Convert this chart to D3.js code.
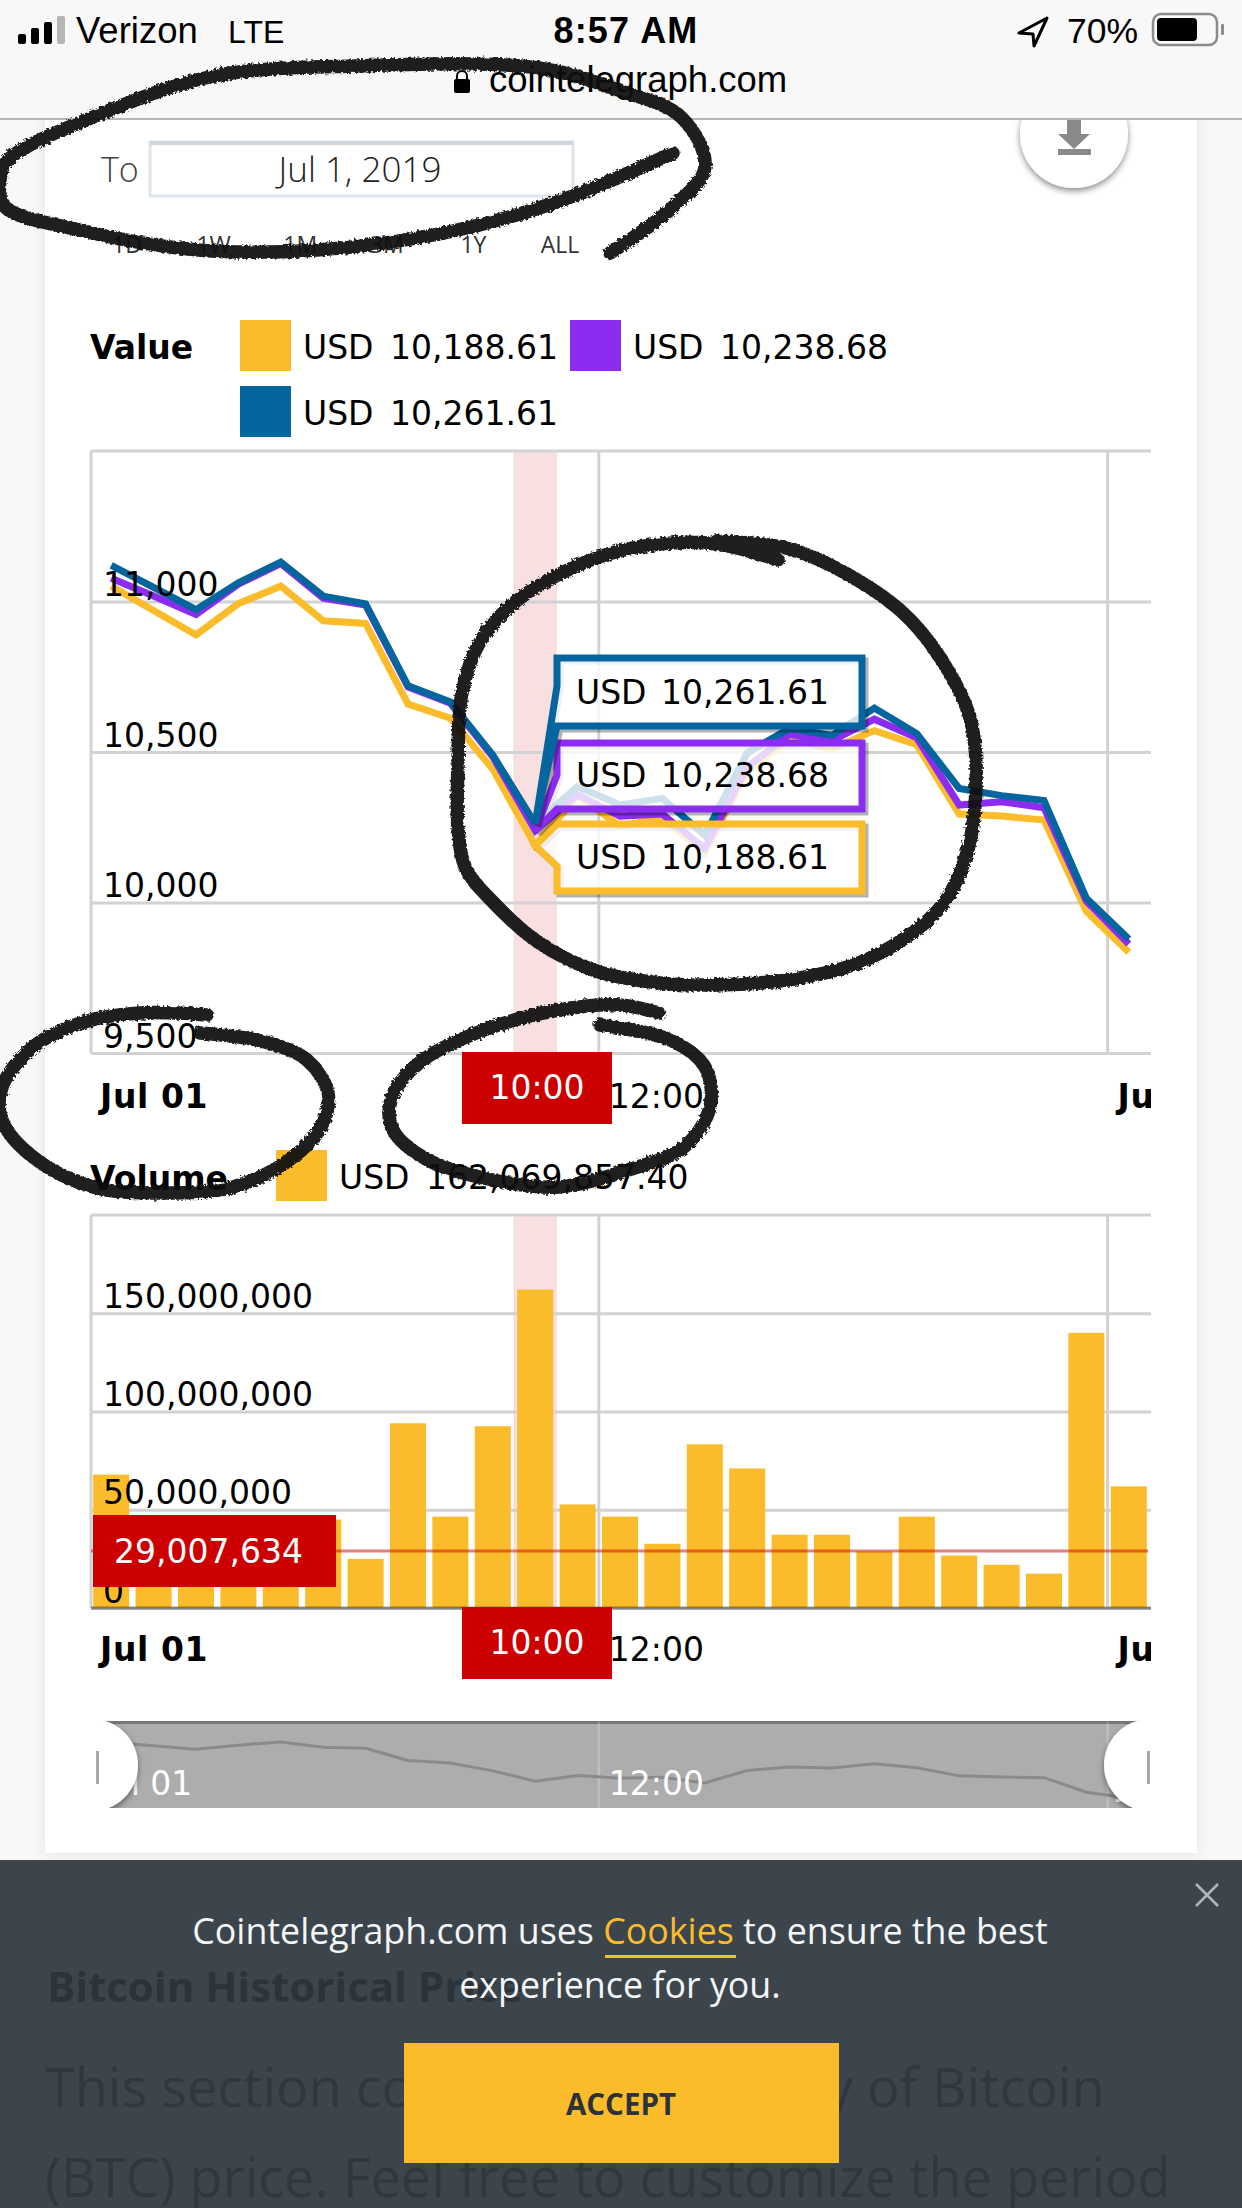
<!DOCTYPE html>
<html>
<head>
<meta charset="utf-8">
<title>Bitcoin price and volume</title>
<script src="https://cdn.jsdelivr.net/npm/d3@7/dist/d3.min.js"></script>
<style>
  html, body { margin: 0; padding: 0; background: #f8f8f8; }
  svg { display: block; }
  .chartText { font-family: "DejaVu Sans", sans-serif; font-size: 33px; fill: #000; }
  .pageText { font-family: "Open Sans", sans-serif; }
  .uiText { font-family: "Liberation Sans", sans-serif; fill: #000; }
</style>
</head>
<body>
<svg id="page" width="1242" height="2208" viewBox="0 0 1242 2208"></svg>
<script>
// Hourly samples for 1 July 2019
const hours = d3.range(25);
const highValues = [11120, 11047, 10973, 11062, 11131, 11018, 10992, 10720, 10666, 10490, 10261.61, 10385, 10324, 10346, 10223, 10497, 10578, 10555, 10646, 10561, 10379, 10355, 10339, 10014, 9879];
const midValues = [11077, 11018, 10957, 11058, 11126, 11011, 10988, 10716, 10662, 10484, 10238.68, 10358, 10287, 10294, 10179, 10450, 10558, 10538, 10609, 10547, 10324, 10335, 10315, 10004, 9862];
const lowValues = [11051, 10970, 10889, 10993, 11051, 10936, 10927, 10659, 10612, 10443, 10188.61, 10355, 10254, 10281, 10166, 10436, 10544, 10511, 10571, 10524, 10294, 10287, 10274, 9970, 9835];
const volumes = [67900000, 30000000, 25000000, 22000000, 28000000, 45000000, 25000000, 94000000, 46500000, 92500000, 162069857.40, 52700000, 46500000, 32700000, 83300000, 71000000, 37300000, 37300000, 28800000, 46500000, 26700000, 22000000, 17500000, 140000000, 61900000];
const priceTicks = [9500, 10000, 10500, 11000];
const volumeTicks = [0, 50000000, 100000000, 150000000];
const timeTickHours = [0, 12, 24];
const timeTickLabels = ["Jul 01", "12:00", "Jul 02"];
const rangeButtons = ["1D", "1W", "1M", "3M", "1Y", "ALL"];
const hoveredHour = 10;
const hoveredHourLabel = "10:00";
const hoveredVolumeLevel = 29007634;

const YELLOW = "#fbbc2b", PURPLE = "#8b2cf0", BLUE = "#05659f", RED = "#cc0000", GRID = "#d2d2d2";
const seriesList = [
  { values: lowValues, color: YELLOW },
  { values: midValues, color: PURPLE },
  { values: highValues, color: BLUE }
];

const svg = d3.select("#page");
const defs = svg.append("defs");

// Rough edge for the hand-drawn marker strokes
const rough = defs.append("filter").attr("id", "rough").attr("x", "-10%").attr("y", "-10%").attr("width", "120%").attr("height", "120%");
rough.append("feTurbulence").attr("type", "fractalNoise").attr("baseFrequency", 0.35).attr("numOctaves", 2).attr("seed", 4).attr("result", "n");
rough.append("feDisplacementMap").attr("in", "SourceGraphic").attr("in2", "n").attr("scale", 5);

const softShadow = defs.append("filter").attr("id", "softShadow").attr("x", "-30%").attr("y", "-30%").attr("width", "160%").attr("height", "160%");
softShadow.append("feDropShadow").attr("dx", 0).attr("dy", 3).attr("stdDeviation", 3).attr("flood-color", "#000").attr("flood-opacity", 0.45);

const cardShadow = defs.append("filter").attr("id", "cardShadow").attr("x", "-5%").attr("y", "-5%").attr("width", "110%").attr("height", "110%");
cardShadow.append("feDropShadow").attr("dx", 0).attr("dy", 2).attr("stdDeviation", 7).attr("flood-color", "#000").attr("flood-opacity", 0.08);

const plotLeft = 91, plotRight = 1151;
defs.append("clipPath").attr("id", "plotClip").append("rect").attr("x", plotLeft - 3).attr("y", 0).attr("width", plotRight - plotLeft + 3).attr("height", 2208);

// Page card
svg.append("rect").attr("x", 45).attr("y", 0).attr("width", 1152).attr("height", 1853).attr("fill", "#fff").attr("filter", "url(#cardShadow)");

// Date field and range selector
svg.append("text").attr("class", "pageText").attr("x", 101).attr("y", 182).attr("font-size", 34).attr("font-weight", 300).attr("fill", "#444").text("To");
svg.append("rect").attr("x", 150).attr("y", 142).attr("width", 423).attr("height", 54).attr("fill", "#fff").attr("stroke", "#dfe5ea").attr("stroke-width", 3);
svg.append("rect").attr("x", 150).attr("y", 141).attr("width", 423).attr("height", 4).attr("fill", "#cfd6de");
svg.append("text").attr("class", "pageText").attr("x", 360).attr("y", 182).attr("text-anchor", "middle").attr("font-size", 35).attr("font-weight", 300).attr("fill", "#1e1e1e").text("Jul 1, 2019");

const rangeScale = d3.scalePoint().domain(rangeButtons).range([127, 560]);
svg.selectAll("text.range").data(rangeButtons).join("text")
  .attr("class", "range pageText")
  .attr("x", d => rangeScale(d)).attr("y", 253).attr("text-anchor", "middle")
  .attr("font-size", 23).attr("font-weight", 400).attr("fill", "#333").text(d => d);

// Export button, tucked under the browser bar
svg.append("circle").attr("cx", 1074).attr("cy", 134).attr("r", 54).attr("fill", "#fff").attr("filter", "url(#softShadow)");
svg.append("path").attr("d", "M1067 118h14v16h9l-16 15-16-15h9z").attr("fill", "#8a8a8a");
svg.append("rect").attr("x", 1058).attr("y", 149).attr("width", 33).attr("height", 6).attr("fill", "#8a8a8a");

// Value legend
function legendEntry(x, y, color, label) {
  svg.append("rect").attr("x", x).attr("y", y).attr("width", 51).attr("height", 51).attr("fill", color);
  svg.append("text").attr("class", "chartText").attr("x", x + 63).attr("y", y + 39).attr("word-spacing", 6).text(label);
}
const usd = v => "USD " + d3.format(",.2f")(v);
svg.append("text").attr("class", "chartText").attr("x", 90).attr("y", 359).attr("font-weight", 700).text("Value");
legendEntry(240, 320, YELLOW, usd(lowValues[hoveredHour]));
legendEntry(570, 320, PURPLE, usd(midValues[hoveredHour]));
legendEntry(240, 386, BLUE, usd(highValues[hoveredHour]));

// Shared horizontal scale: one band per hour
const x = d3.scaleBand().domain(hours).range([90, 1150]).paddingInner(0.15).paddingOuter(0.075);
const bandStart = h => x(h) - x.step() * x.paddingOuter();
const bandCentre = h => x(h) + x.bandwidth() / 2;

function drawFrame(top, bottom, yScale, ticks, tickFmt) {
  const g = svg.append("g").attr("clip-path", "url(#plotClip)");
  // vertical time grid
  g.selectAll("line.t").data(timeTickHours.slice(1)).join("line")
    .attr("x1", bandStart).attr("x2", bandStart).attr("y1", top).attr("y2", bottom)
    .attr("stroke", GRID).attr("stroke-width", 3);
  // highlighted hour column
  g.append("rect").attr("x", bandStart(hoveredHour)).attr("width", x.step()).attr("y", top).attr("height", bottom - top)
    .attr("fill", RED).attr("fill-opacity", 0.12).attr("stroke", RED).attr("stroke-opacity", 0.08);
  // top and left frame
  g.append("line").attr("x1", plotLeft).attr("x2", plotRight).attr("y1", top).attr("y2", top).attr("stroke", GRID).attr("stroke-width", 3);
  g.append("line").attr("x1", plotLeft).attr("x2", plotLeft).attr("y1", top).attr("y2", bottom).attr("stroke", GRID).attr("stroke-width", 3);
  // horizontal grid via the axis generator
  const axis = d3.axisLeft(yScale).tickValues(ticks).tickSize(-(plotRight - plotLeft)).tickFormat(tickFmt);
  const ag = g.append("g").attr("transform", `translate(${plotLeft},0)`).call(axis);
  ag.select(".domain").remove();
  ag.selectAll(".tick line").attr("stroke", GRID).attr("stroke-width", 3);
  ag.selectAll(".tick text").remove();
  return ag;
}
function drawTickLabels(yScale, ticks, tickFmt) {
  // labels sit inside the plot just above their grid line, on top of the marks
  svg.append("g").selectAll("text").data(ticks).join("text")
    .attr("class", "chartText")
    .attr("x", plotLeft + 12)
    .attr("y", d => yScale(d) - 5.5)
    .text(tickFmt);
}
function drawTimeAxis(baseline, fillStyle, boldDates) {
  const g = svg.append("g").attr("clip-path", "url(#plotClip)");
  g.selectAll("text").data(timeTickHours).join("text")
    .attr("class", "chartText")
    .attr("x", d => bandStart(d) + 10)
    .attr("y", baseline)
    .attr("font-weight", d => (boldDates && d !== 12) ? 700 : 400)
    .attr("letter-spacing", d => (boldDates && d !== 12) ? 0.6 : 0)
    .style("fill", fillStyle)
    .text((d, i) => timeTickLabels[i]);
}
function drawHoverTime(top) {
  const g = svg.append("g");
  g.append("rect").attr("x", 462).attr("y", top).attr("width", 150).attr("height", 72).attr("fill", RED);
  g.append("text").attr("class", "chartText").attr("x", 537).attr("y", top + 47).attr("text-anchor", "middle").style("fill", "#fff").text(hoveredHourLabel);
}

// Price panel
const priceTop = 451, priceBottom = 1053;
const yPrice = d3.scaleLinear().domain([9500, 9500 + (priceBottom - priceTop) / 0.301]).range([priceBottom, priceTop]);
const priceFmt = d3.format(",");
drawFrame(priceTop, priceBottom, yPrice, priceTicks, priceFmt);
const priceLine = d3.line().x((d, i) => bandCentre(hours[i])).y(d => yPrice(d));
const lineG = svg.append("g").attr("clip-path", "url(#plotClip)");
lineG.selectAll("path").data(seriesList).join("path")
  .attr("d", d => priceLine(d.values)).attr("fill", "none").attr("stroke", d => d.color)
  .attr("stroke-width", 7).attr("stroke-linejoin", "miter");
drawTickLabels(yPrice, priceTicks, priceFmt);

// Price call-outs pointing at the hovered hour
const calloutLeft = 557, calloutRight = 862;
const calloutTip = bandCentre(hoveredHour);
const callouts = [
  { value: lowValues[hoveredHour], color: YELLOW, top: 824, bottom: 891, notchA: 824, notchB: 866 },
  { value: midValues[hoveredHour], color: PURPLE, top: 743, bottom: 809, notchA: 775, notchB: 809 },
  { value: highValues[hoveredHour], color: BLUE, top: 658, bottom: 726, notchA: 686, notchB: 726 }
];
const calloutG = svg.selectAll("g.callout").data(callouts).join("g").attr("class", "callout");
const calloutPath = d => {
  const ty = yPrice(d.value);
  return `M${calloutLeft} ${d.top}H${calloutRight}V${d.bottom}H${calloutLeft}V${d.notchB}L${calloutTip} ${ty}L${calloutLeft} ${d.notchA}Z`;
};
calloutG.append("path").attr("d", calloutPath).attr("transform", "translate(3,3)").attr("fill", "none").attr("stroke", "#000").attr("stroke-opacity", 0.3).attr("stroke-width", 7);
calloutG.append("path").attr("d", calloutPath).attr("fill", "#fff").attr("fill-opacity", 0.8).attr("stroke", d => d.color).attr("stroke-width", 7).attr("stroke-linejoin", "miter");
calloutG.append("text").attr("class", "chartText").attr("x", 576).attr("y", d => d.bottom - 22).attr("word-spacing", 4).text(d => usd(d.value));

drawTimeAxis(1108, "#000", true);
drawHoverTime(1052);

// Volume legend
svg.append("text").attr("class", "chartText").attr("x", 90).attr("y", 1190).attr("font-weight", 700).text("Volume");
legendEntry(276, 1150, YELLOW, usd(volumes[hoveredHour]));

// Volume panel
const volTop = 1215, volBottom = 1608;
const yVol = d3.scaleLinear().domain([0, 200000000]).range([volBottom, volTop]);
const volFmt = d3.format(",");
drawFrame(volTop, volBottom, yVol, volumeTicks, volFmt);
svg.append("g").selectAll("rect").data(volumes).join("rect")
  .attr("x", (d, i) => x(hours[i])).attr("width", x.bandwidth())
  .attr("y", d => yVol(d)).attr("height", d => yVol(0) - yVol(d)).attr("fill", YELLOW);
svg.append("line").attr("x1", plotLeft).attr("x2", plotRight).attr("y1", volBottom).attr("y2", volBottom).attr("stroke", "#000").attr("stroke-opacity", 0.38).attr("stroke-width", 3);
drawTickLabels(yVol, volumeTicks, volFmt);

// Hovered volume level
svg.append("line").attr("x1", plotLeft).attr("x2", plotRight - 3).attr("y1", yVol(hoveredVolumeLevel)).attr("y2", yVol(hoveredVolumeLevel)).attr("stroke", RED).attr("stroke-opacity", 0.5).attr("stroke-width", 3);
svg.append("rect").attr("x", 93).attr("y", yVol(hoveredVolumeLevel) - 36).attr("width", 243).attr("height", 72).attr("fill", RED);
svg.append("text").attr("class", "chartText").attr("x", 114).attr("y", yVol(hoveredVolumeLevel) + 12).style("fill", "#fff").text(d3.format(",")(hoveredVolumeLevel));

drawTimeAxis(1661, "#000", true);
drawHoverTime(1607);

// Range navigator
const navTop = 1722, navBottom = 1808;
const yNav = d3.scaleLinear().domain([9664, 11577]).range([navBottom, navTop]);
svg.append("rect").attr("x", plotLeft).attr("y", navTop).attr("width", plotRight - plotLeft).attr("height", navBottom - navTop).attr("fill", "#adadad");
svg.append("rect").attr("x", plotLeft).attr("y", navTop - 1).attr("width", plotRight - plotLeft).attr("height", 3).attr("fill", "#777");
svg.selectAll("line.nav").data(timeTickHours.slice(1)).join("line").attr("class", "nav")
  .attr("x1", bandStart).attr("x2", bandStart).attr("y1", navTop).attr("y2", navBottom)
  .attr("stroke", "#fff").attr("stroke-opacity", 0.25).attr("stroke-width", 2);
svg.append("path").attr("d", d3.line().x((d, i) => bandCentre(hours[i])).y(d => yNav(d))(highValues))
  .attr("fill", "none").attr("stroke", "#8a8a8a").attr("stroke-width", 3);
drawTimeAxis(1795, "#fff", false);

defs.append("clipPath").attr("id", "navClip").append("rect").attr("x", plotLeft).attr("y", navTop - 2).attr("width", plotRight - plotLeft).attr("height", navBottom - navTop + 2);
const handles = svg.append("g").attr("clip-path", "url(#navClip)");
[92, 1150].forEach(cx => {
  handles.append("circle").attr("cx", cx).attr("cy", 1765).attr("r", 46).attr("fill", "#fff").attr("filter", "url(#softShadow)");
});
[96, 1147].forEach(hx => {
  svg.append("rect").attr("x", hx).attr("y", 1751).attr("width", 3).attr("height", 33).attr("fill", "#a8a8a8");
});

// Page copy under the cookie banner
svg.append("rect").attr("x", 0).attr("y", 1860).attr("width", 1242).attr("height", 348).attr("fill", "#3c454b");
svg.append("text").attr("class", "pageText").attr("x", 47).attr("y", 2002).attr("font-size", 42).attr("font-weight", 700).attr("fill", "#2c3439").text("Bitcoin Historical Price");
svg.append("text").attr("class", "pageText").attr("x", 45).attr("y", 2107).attr("font-size", 54).attr("fill", "#2f383e").text("This section contains the history of Bitcoin");
svg.append("text").attr("class", "pageText").attr("x", 45).attr("y", 2197).attr("font-size", 54).attr("fill", "#2f383e").text("(BTC) price. Feel free to customize the period");

// Cookie banner
const line1 = svg.append("text").attr("class", "pageText").attr("x", 620).attr("y", 1944).attr("text-anchor", "middle").attr("font-size", 35.8).attr("fill", "#f3f5f6");
line1.append("tspan").text("Cointelegraph.com uses ");
line1.append("tspan").attr("fill", YELLOW).text("Cookies");
line1.append("tspan").text(" to ensure the best");
svg.append("rect").attr("x", 605).attr("y", 1955).attr("width", 131).attr("height", 3).attr("fill", YELLOW);
svg.append("text").attr("class", "pageText").attr("x", 620).attr("y", 1998).attr("text-anchor", "middle").attr("font-size", 35.8).attr("fill", "#f3f5f6").text("experience for you.");
svg.append("path").attr("d", "M1196 1884L1218 1906M1218 1884L1196 1906").attr("stroke", "#aeb6bb").attr("stroke-width", 2.5);
svg.append("rect").attr("x", 404).attr("y", 2043).attr("width", 435).attr("height", 120).attr("fill", YELLOW);
svg.append("text").attr("class", "pageText").attr("x", 621).attr("y", 2115).attr("text-anchor", "middle").attr("font-size", 29.5).attr("font-weight", 700).attr("fill", "#2b3338").text("ACCEPT");

// Browser chrome
svg.append("rect").attr("x", 0).attr("y", 0).attr("width", 1242).attr("height", 119).attr("fill", "#f8f8f9");
svg.append("rect").attr("x", 0).attr("y", 118).attr("width", 1242).attr("height", 2).attr("fill", "#b6b6b6");
[[18, 10, "#000"], [31, 16, "#000"], [44, 22, "#000"], [57, 28, "#b5b5b5"]].forEach(([bx, bh, c]) => {
  svg.append("rect").attr("x", bx).attr("y", 44 - bh).attr("width", 8).attr("height", bh).attr("rx", 2).attr("fill", c);
});
svg.append("text").attr("class", "uiText").attr("x", 76).attr("y", 43).attr("font-size", 36.5).text("Verizon");
svg.append("text").attr("class", "uiText").attr("x", 228).attr("y", 43).attr("font-size", 32).text("LTE");
svg.append("text").attr("class", "uiText").attr("x", 626).attr("y", 43).attr("text-anchor", "middle").attr("font-size", 36).attr("font-weight", 700).attr("letter-spacing", 1.2).text("8:57 AM");
svg.append("path").attr("d", "M1047 18L1019 33L1033 34L1034 46Z").attr("fill", "none").attr("stroke", "#000").attr("stroke-width", 3).attr("stroke-linejoin", "round");
svg.append("text").attr("class", "uiText").attr("x", 1067).attr("y", 43).attr("font-size", 35.5).text("70%");
svg.append("rect").attr("x", 1153).attr("y", 14).attr("width", 64).attr("height", 31).attr("rx", 8).attr("fill", "none").attr("stroke", "#8b8b8b").attr("stroke-width", 2.5);
svg.append("rect").attr("x", 1157).attr("y", 18).attr("width", 40).attr("height", 23).attr("rx", 4).attr("fill", "#000");
svg.append("rect").attr("x", 1221).attr("y", 24).attr("width", 3).attr("height", 11).attr("rx", 1).attr("fill", "#8b8b8b");
svg.append("rect").attr("x", 454).attr("y", 79).attr("width", 16).attr("height", 14).attr("rx", 2).attr("fill", "#000");
svg.append("path").attr("d", "M457 79v-3a5 5 0 0 1 10 0v3").attr("fill", "none").attr("stroke", "#000").attr("stroke-width", 2);
svg.append("text").attr("class", "uiText").attr("x", 489).attr("y", 92).attr("font-size", 36.5).text("cointelegraph.com");

// Hand-drawn marker annotations, in page pixels
const markerStrokes = [
  [[610, 253], [673, 207], [705, 167], [681, 117], [618, 90], [539, 68], [356, 66], [214, 76], [103, 113], [8, 160], [0, 180], [4, 206], [79, 230], [198, 250], [317, 250], [444, 233], [554, 203], [673, 153]],
  [[778, 560], [717, 544], [660, 544], [596, 558], [519, 599], [481, 640], [462, 693], [458, 766], [458, 828], [466, 869], [492, 901], [538, 942], [596, 971], [660, 983], [709, 985], [794, 979], [870, 958], [939, 909], [966, 856], [976, 787], [970, 718], [939, 656], [901, 611], [832, 566], [786, 548], [717, 541]],
  [[207, 1015], [140, 1013], [84, 1022], [33, 1047], [2, 1087], [2, 1120], [33, 1157], [93, 1187], [163, 1193], [233, 1187], [289, 1160], [321, 1127], [328, 1093], [307, 1060], [265, 1042], [200, 1033]],
  [[659, 1013], [619, 1005], [559, 1010], [484, 1030], [419, 1063], [391, 1100], [393, 1130], [428, 1160], [493, 1180], [559, 1187], [628, 1170], [684, 1147], [710, 1107], [705, 1067], [670, 1040], [600, 1025]]
];
const markerLine = d3.line().curve(d3.curveCatmullRom.alpha(0.5));
svg.append("g").attr("filter", "url(#rough)").selectAll("path").data(markerStrokes).join("path")
  .attr("d", markerLine).attr("fill", "none").attr("stroke", "#111").attr("stroke-opacity", 0.93)
  .attr("stroke-width", 13.5).attr("stroke-linecap", "round").attr("stroke-linejoin", "round");
</script>
</body>
</html>
